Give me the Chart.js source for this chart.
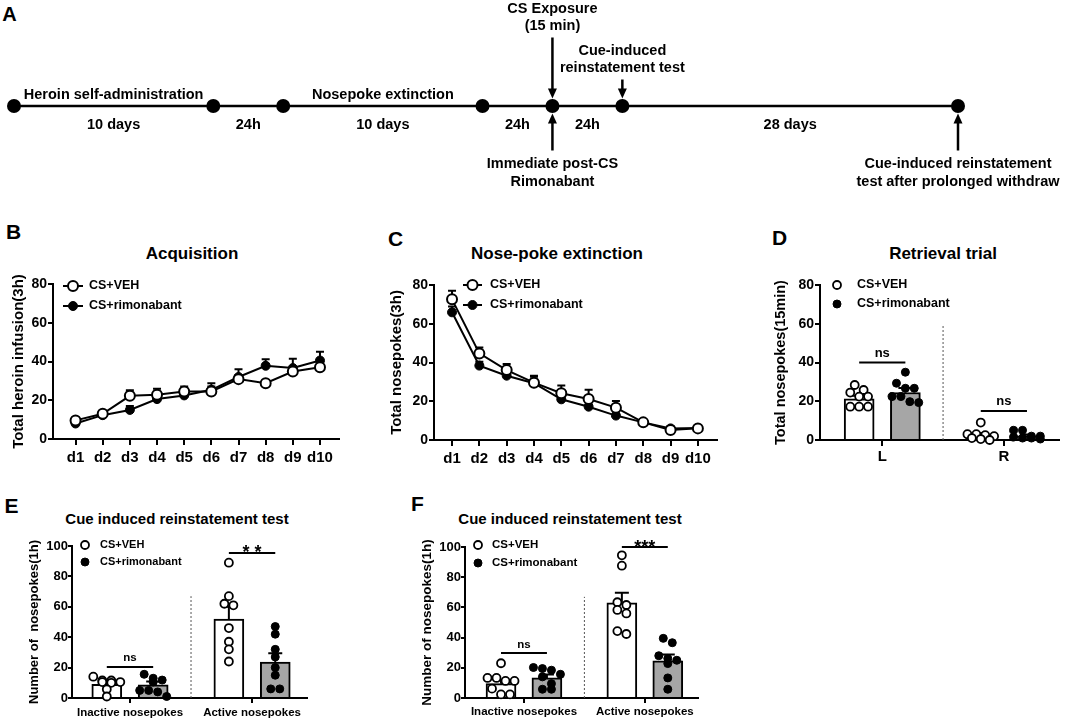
<!DOCTYPE html>
<html>
<head>
<meta charset="utf-8">
<script src="https://cdn.jsdelivr.net/npm/chart.js@4.4.1/dist/chart.umd.min.js"></script>
<style>
  html, body { margin: 0; padding: 0; background: #fff; }
  body { width: 1065px; height: 722px; position: relative; overflow: hidden;
         font-family: "Liberation Sans", Arial, Helvetica, sans-serif; font-weight: bold; color: #000; }
  canvas { position: absolute; }
  .lbl { position: absolute; transform: translate(-50%, -50%); white-space: nowrap; line-height: 1; }
</style>
</head>
<body>
<div class="lbl" style="left:9.5px;top:14px;font-size:20px">A</div>
<div class="lbl" style="left:13.5px;top:230.5px;font-size:21px">B</div>
<div class="lbl" style="left:395.5px;top:237.5px;font-size:21px">C</div>
<div class="lbl" style="left:779.5px;top:236.5px;font-size:21px">D</div>
<div class="lbl" style="left:11.5px;top:505px;font-size:21px">E</div>
<div class="lbl" style="left:417.5px;top:502.5px;font-size:21px">F</div>

<div class="lbl" style="left:192px;top:253px;font-size:17px">Acquisition</div>
<div class="lbl" style="left:557px;top:253px;font-size:17px">Nose-poke extinction</div>
<div class="lbl" style="left:943px;top:253px;font-size:17px">Retrieval trial</div>
<div class="lbl" style="left:177px;top:518px;font-size:15px">Cue induced reinstatement test</div>
<div class="lbl" style="left:570px;top:518px;font-size:15px">Cue induced reinstatement test</div>

<script>
const FONT = '"Liberation Sans", Arial, Helvetica, sans-serif';
Chart.defaults.font.family = FONT;
Chart.defaults.font.weight = 'bold';
Chart.defaults.color = '#000';

// ---- A: timeline (segment lengths, relative units) ----
const segmentSpans = [2.85, 1, 2.85, 1, 1, 4.8];
const durationLabels = ['10 days', '24h', '10 days', '24h', '24h', '28 days'];
const phaseLabels = ['Heroin self-administration', '', 'Nosepoke extinction', '', '', ''];
const eventStops = [4, 4, 5, 6];
const eventSides = ['above', 'below', 'above', 'below'];
const eventTexts = [
  ['CS Exposure', '(15 min)'],
  ['Immediate post-CS', 'Rimonabant'],
  ['Cue-induced', 'reinstatement test'],
  ['Cue-induced reinstatement', 'test after prolonged withdraw']
];

// ---- B: acquisition ----
const acqDays = ['d1', 'd2', 'd3', 'd4', 'd5', 'd6', 'd7', 'd8', 'd9', 'd10'];
const acqVeh = [9.6, 13, 22.3, 22.8, 24.5, 24.5, 30.9, 28.8, 34.8, 37];
const acqVehSem = [1, 0.8, 2.8, 3.2, 2.6, 2.6, 2, 1, 2, 1.5];
const acqRim = [8, 12.3, 15, 20.6, 22.5, 25.4, 32, 37.8, 36.6, 40.5];
const acqRimSem = [0.8, 0.8, 2, 1.2, 1, 3.4, 4, 3.4, 4.8, 4.5];

// ---- C: nose-poke extinction ----
const extDays = ['d1', 'd2', 'd3', 'd4', 'd5', 'd6', 'd7', 'd8', 'd9', 'd10'];
const extVeh = [72.6, 44.7, 36.1, 29.6, 24.1, 21.2, 16.7, 9.1, 5.2, 6];
const extVehSem = [4.4, 3, 3.1, 3, 4, 4.8, 3.4, 1, 1, 0.8];
const extRim = [65.9, 38.4, 33.2, 29.3, 21, 17.2, 12.6, 9.1, 6, 6.2];
const extRimSem = [3, 2, 1, 3.8, 1, 1, 1.2, 0.8, 0.8, 0.6];

// ---- D: retrieval trial ----
const retGroups = ['L', 'R'];
const retVehMean = [21.3, 2.6];
const retVehSem = [1.5, 1];
const retRimMean = [24.5, 2.2];
const retRimSem = [2.3, 0.6];
const retVehPts = [[28.4, 25.8, 24.5, 22.4, 22.4, 17.2, 17.2, 17.2], [9, 3, 3, 2.5, 2, 1, 0.5, 0]];
const retRimPts = [[35, 29.3, 26.7, 26.7, 22.4, 22.4, 19.8, 19.3], [5, 5, 2, 2, 1.5, 1, 1, 0.5]];
const retSigY = [40, 15];
const retSigText = ['ns', 'ns'];

// ---- E: cue induced reinstatement test ----
const cueGroups = ['Inactive nosepokes', 'Active nosepokes'];
const cueVehMean = [9, 52];
const cueVehSem = [1.3, 8];
const cueRimMean = [8.7, 23.6];
const cueRimSem = [2.2, 5.9];
const cueVehPts = [[14, 11.5, 11.5, 10.5, 10.5, 10, 5.7, 1], [89, 67, 62, 61, 46, 37, 32, 24]];
const cueRimPts = [[15.6, 13, 11.8, 10.5, 5, 5, 4, 1], [47, 42, 32, 27, 20, 15, 6, 6]];
const cueSigY = [20.4, 95.4];
const cueSigText = ['ns', '* *'];

// ---- F: cue induced reinstatement test after prolonged withdrawal ----
const lateGroups = ['Inactive nosepokes', 'Active nosepokes'];
const lateVehMean = [9.5, 63];
const lateVehSem = [2.5, 6.7];
const lateRimMean = [13.3, 24.6];
const lateRimSem = [2.3, 4.2];
const lateVehPts = [[23, 13.3, 13.3, 11.3, 11.3, 6.2, 2.4, 2.4], [94.5, 87.6, 63.4, 61.6, 58.3, 56, 44.3, 42.4]];
const lateRimPts = [[20.2, 19.5, 18.4, 15.7, 14, 9.5, 5.8, 5.8], [39.5, 36.6, 28, 26.2, 25, 22.8, 13.3, 5.8]];
const lateSigY = [29.8, 100];
const lateSigText = ['ns', '***'];

const BAR_OFFSET = 0.19;   // VEH / rimonabant bar shift inside a group
const RIM_GREY = '#a6a6a6';

// ---------- helpers ----------
function mount(id, box) {
  const c = document.createElement('canvas');
  c.id = id;
  c.width = box.w; c.height = box.h;
  c.style.left = box.left + 'px'; c.style.top = box.top + 'px';
  c.style.width = box.w + 'px'; c.style.height = box.h + 'px';
  document.body.appendChild(c);
  return c;
}

// canvas box + wanted plot area (page px) -> padding and axis sizes
function frame(box, area) {
  return {
    box, area,
    padding: { left: 0, top: area.top - box.top, right: box.left + box.w - area.right, bottom: 0 },
    yWidth: area.left - box.left,
    xHeight: box.top + box.h - area.bottom
  };
}

// simple dot-plot layout: values that sit close together share a row
function swarm(values, center, step, tol, perRow) {
  const order = values.map((v, i) => i).sort((a, b) => values[b] - values[a]);
  const xs = [];
  let row = [];
  const flush = () => {
    row.forEach((i, k) => { xs[i] = center + (k - (row.length - 1) / 2) * step; });
    row = [];
  };
  order.forEach(i => {
    if (row.length && (values[row[0]] - values[i] > tol || row.length >= perRow)) flush();
    row.push(i);
  });
  flush();
  return values.map((v, i) => ({ x: xs[i], y: v }));
}

function axes(f, x, y) {
  const marks = { display: true, drawOnChartArea: false, drawTicks: true, color: '#000', lineWidth: 2 };
  return {
    x: {
      type: 'linear', min: x.min, max: x.max, offset: false,
      grid: { ...marks, offset: false, tickLength: x.tick },
      border: { display: true, color: '#000', width: 2 },
      ticks: { font: { size: x.size }, padding: x.pad, maxRotation: 0, autoSkip: false,
               callback: v => x.labels[Math.round(v) - 1] },
      afterBuildTicks: s => { s.ticks = x.labels.map((l, i) => ({ value: i + 1 })); },
      afterFit: s => { s.height = f.xHeight; }
    },
    y: {
      min: 0, max: y.max,
      grid: { ...marks, tickLength: y.tick },
      border: { display: true, color: '#000', width: 2 },
      ticks: { stepSize: y.step, font: { size: y.size }, padding: y.pad },
      title: { display: true, text: y.title, font: { size: y.titleSize }, padding: { top: y.titlePad, bottom: 0 } },
      afterFit: s => { s.width = f.yWidth; }
    }
  };
}

// ---------- plugins ----------
const errorBars = {
  id: 'errorBars',
  beforeDatasetDraw(chart, args) {
    const ds = chart.data.datasets[args.index];
    if (!ds.sem) return;
    const { ctx, scales: { y } } = chart;
    ctx.save();
    ctx.strokeStyle = '#000';
    ctx.lineWidth = 2;
    args.meta.data.forEach((el, i) => {
      const top = y.getPixelForValue(ds.data[i].y + ds.sem[i]);
      ctx.beginPath();
      ctx.moveTo(el.x, el.y);
      ctx.lineTo(el.x, top);
      ctx.moveTo(el.x - ds.cap, top);
      ctx.lineTo(el.x + ds.cap, top);
      ctx.stroke();
    });
    ctx.restore();
  }
};

const sigMarks = {
  id: 'sigMarks',
  afterDatasetsDraw(chart, args, o) {
    if (!o.levels) return;
    const { ctx, scales: { x, y } } = chart;
    ctx.save();
    ctx.strokeStyle = '#000';
    ctx.fillStyle = '#000';
    ctx.lineWidth = 2;
    ctx.textAlign = 'center';
    ctx.textBaseline = 'alphabetic';
    o.levels.forEach((lv, i) => {
      const x0 = x.getPixelForValue(i + 1 - BAR_OFFSET);
      const x1 = x.getPixelForValue(i + 1 + BAR_OFFSET);
      const py = y.getPixelForValue(lv);
      ctx.beginPath(); ctx.moveTo(x0, py); ctx.lineTo(x1, py); ctx.stroke();
      const star = o.labels[i].includes('*');
      ctx.font = `bold ${star ? o.starSize : o.nsSize}px ${FONT}`;
      ctx.fillText(o.labels[i], (x0 + x1) / 2, py + (star ? 5.5 : -5.5));
    });
    ctx.restore();
  }
};

const separator = {
  id: 'separator',
  afterDatasetsDraw(chart, args, o) {
    if (o.at === undefined) return;
    const { ctx, scales: { x, y } } = chart;
    const px = x.getPixelForValue(o.at);
    ctx.save();
    ctx.strokeStyle = '#555';
    ctx.lineWidth = 1;
    ctx.setLineDash([2, 2]);
    ctx.beginPath();
    ctx.moveTo(px, y.getPixelForValue(0));
    ctx.lineTo(px, y.getPixelForValue(o.top));
    ctx.stroke();
    ctx.restore();
  }
};

const panelLegend = {
  id: 'panelLegend',
  afterDraw(chart, args, o) {
    if (o.dx === undefined) return;
    const { ctx, chartArea } = chart;
    const items = chart.data.datasets.filter(d => d.label);
    ctx.save();
    ctx.font = `bold ${o.size}px ${FONT}`;
    ctx.textAlign = 'left';
    ctx.textBaseline = 'middle';
    items.forEach((d, k) => {
      const yy = chartArea.top + o.dy + k * o.rowH;
      const x0 = chartArea.left + o.dx;
      let cx = x0;
      if (o.lineLen) {
        ctx.strokeStyle = '#000';
        ctx.lineWidth = 2;
        ctx.beginPath(); ctx.moveTo(x0, yy); ctx.lineTo(x0 + o.lineLen, yy); ctx.stroke();
        cx = x0 + o.lineLen / 2;
      }
      ctx.beginPath();
      ctx.arc(cx, yy, d.pointRadius, 0, Math.PI * 2);
      ctx.fillStyle = d.pointBackgroundColor;
      ctx.fill();
      ctx.lineWidth = d.pointBorderWidth;
      ctx.strokeStyle = '#000';
      ctx.stroke();
      ctx.fillStyle = '#000';
      ctx.fillText(d.label, chartArea.left + o.tx, yy);
    });
    ctx.restore();
  }
};

const timelineText = {
  id: 'timelineText',
  afterDatasetsDraw(chart, args, o) {
    if (!o.stops) return;
    const { ctx, scales: { x, y } } = chart;
    const lineY = y.getPixelForValue(0);
    ctx.save();
    ctx.fillStyle = '#000';
    ctx.strokeStyle = '#000';
    ctx.font = `bold 14.5px ${FONT}`;
    ctx.textAlign = 'center';
    ctx.textBaseline = 'middle';
    segmentSpans.forEach((s, i) => {
      const mid = x.getPixelForValue(o.stops[i] + s / 2);
      if (phaseLabels[i]) ctx.fillText(phaseLabels[i], mid, lineY - 11);
      ctx.fillText(durationLabels[i], mid, lineY + 19);
    });
    eventStops.forEach((si, k) => {
      const px = x.getPixelForValue(o.stops[si]);
      const dir = eventSides[k] === 'above' ? -1 : 1;
      const tip = lineY + dir * (o.dotR + 0.5);
      const tail = tip + dir * o.arrowLens[k];
      ctx.lineWidth = 2.5;
      ctx.beginPath(); ctx.moveTo(px, tail); ctx.lineTo(px, tip + dir * 8); ctx.stroke();
      ctx.beginPath();
      ctx.moveTo(px, tip);
      ctx.lineTo(px - 4.5, tip + dir * 10);
      ctx.lineTo(px + 4.5, tip + dir * 10);
      ctx.closePath();
      ctx.fill();
      const lines = eventTexts[k];
      lines.forEach((t, j) => {
        const ty = dir < 0 ? tail - 11.5 - (lines.length - 1 - j) * 17.5 : tail + 13 + j * 18;
        ctx.fillText(t, px, ty);
      });
    });
    ctx.restore();
  }
};

Chart.register(errorBars, sigMarks, separator, panelLegend, timelineText);

// ---------- A ----------
const stops = [0];
segmentSpans.forEach(s => stops.push(stops[stops.length - 1] + s));

new Chart(mount('timeline', { left: 0, top: 0, w: 1065, h: 200 }), {
  type: 'line',
  data: {
    datasets: [{
      data: stops.map(v => ({ x: v, y: 0 })),
      borderColor: '#000', borderWidth: 2.5,
      pointRadius: 7, pointBackgroundColor: '#000', pointBorderWidth: 0,
      clip: false
    }]
  },
  options: {
    responsive: false, animation: false,
    layout: { padding: { left: 14, right: 107, top: 86, bottom: 74 } },
    scales: {
      x: { type: 'linear', display: false, min: 0, max: stops[stops.length - 1] },
      y: { display: false, min: -1, max: 1 }
    },
    plugins: {
      legend: { display: false }, tooltip: { enabled: false },
      timelineText: { stops, dotR: 7, arrowLens: [61, 37, 19, 37] }
    }
  }
});

// ---------- line panels ----------
function linePanel(id, f, days, veh, vehSem, rim, rimSem, xr, yTitle, legend) {
  const pts = arr => arr.map((v, i) => ({ x: i + 1, y: v }));
  new Chart(mount(id, f.box), {
    type: 'line',
    data: {
      datasets: [
        { label: 'CS+VEH', data: pts(veh), sem: vehSem, cap: 4,
          borderColor: '#000', borderWidth: 2, tension: 0, clip: false,
          pointRadius: 5, pointBackgroundColor: '#fff', pointBorderColor: '#000', pointBorderWidth: 2 },
        { label: 'CS+rimonabant', data: pts(rim), sem: rimSem, cap: 4,
          borderColor: '#000', borderWidth: 2, tension: 0, clip: false,
          pointRadius: 4.5, pointBackgroundColor: '#000', pointBorderColor: '#000', pointBorderWidth: 1 }
      ]
    },
    options: {
      responsive: false, animation: false,
      layout: { padding: f.padding },
      scales: axes(f,
        { min: xr[0], max: xr[1], labels: days, tick: 6, size: 15, pad: 4 },
        { max: 80, step: 20, tick: 5, size: 14, pad: 1, title: yTitle.text, titleSize: 15, titlePad: yTitle.pad }),
      plugins: { legend: { display: false }, tooltip: { enabled: false }, panelLegend: legend }
    }
  });
}

linePanel('acq',
  frame({ left: 0, top: 270, w: 350, h: 200 }, { left: 53, top: 284, right: 339, bottom: 439 }),
  acqDays, acqVeh, acqVehSem, acqRim, acqRimSem, [0.17, 10.7],
  { text: 'Total heroin infusion(3h)', pad: 10 },
  { dx: 10, lineLen: 20, tx: 36, dy: 2, rowH: 20, size: 12.5 });

linePanel('ext',
  frame({ left: 380, top: 270, w: 345, h: 200 }, { left: 434, top: 285, right: 717, bottom: 440 }),
  extDays, extVeh, extVehSem, extRim, extRimSem, [0.34, 10.7],
  { text: 'Total nosepokes(3h)', pad: 8 },
  { dx: 29, lineLen: 19, tx: 56, dy: 0, rowH: 20, size: 12.5 });

// ---------- bar + dot panels ----------
function barPanel(id, f, c) {
  const xPx = (f.area.right - f.area.left) / (c.xr[1] - c.xr[0]);
  const yPx = (f.area.bottom - f.area.top) / c.yMax;
  const step = 9 / xPx, tol = 7 / yPx;
  const bars = (means, sign) => means.map((m, i) => ({ x: i + 1 + sign * BAR_OFFSET, y: m }));
  const dots = (sets, sign) => sets.flatMap((vals, i) => swarm(vals, i + 1 + sign * BAR_OFFSET, step, tol, 4));
  new Chart(mount(id, f.box), {
    type: 'bar',
    data: {
      datasets: [
        { type: 'scatter', label: 'CS+VEH', data: dots(c.vehPts, -1), order: 0, clip: false,
          pointRadius: 4, pointBackgroundColor: '#fff', pointBorderColor: '#000', pointBorderWidth: 1.8 },
        { type: 'scatter', label: 'CS+rimonabant', data: dots(c.rimPts, 1), order: 0, clip: false,
          pointRadius: 4, pointBackgroundColor: '#000', pointBorderColor: '#000', pointBorderWidth: 1 },
        { type: 'bar', data: bars(c.vehMean, -1), sem: c.vehSem, cap: 7, order: 2, grouped: false,
          backgroundColor: '#fff', borderColor: '#000', borderWidth: 2, barThickness: 30 },
        { type: 'bar', data: bars(c.rimMean, 1), sem: c.rimSem, cap: 7, order: 2, grouped: false,
          backgroundColor: RIM_GREY, borderColor: '#000', borderWidth: 2, barThickness: 30 }
      ]
    },
    options: {
      responsive: false, animation: false,
      layout: { padding: f.padding },
      scales: axes(f,
        { min: c.xr[0], max: c.xr[1], labels: c.groups, tick: c.xTick, size: c.xSize, pad: c.xPad },
        { max: c.yMax, step: 20, tick: c.yTick, size: c.ySize, pad: c.yPad, title: c.yTitle, titleSize: c.yTitleSize, titlePad: c.yTitlePad }),
      plugins: {
        legend: { display: false }, tooltip: { enabled: false },
        panelLegend: c.legend,
        sigMarks: { levels: c.sigY, labels: c.sigText, nsSize: c.nsSize, starSize: 18 },
        separator: { at: 1.5, top: c.sepTop }
      }
    }
  });
}

barPanel('retrieval',
  frame({ left: 760, top: 270, w: 305, h: 200 }, { left: 820, top: 285, right: 1062, bottom: 440 }),
  { groups: retGroups, vehMean: retVehMean, vehSem: retVehSem, rimMean: retRimMean, rimSem: retRimSem,
    vehPts: retVehPts, rimPts: retRimPts, sigY: retSigY, sigText: retSigText,
    xr: [0.488, 2.455], yMax: 80, xTick: 6, xSize: 15, xPad: 2, yTick: 5, ySize: 14, yPad: 1,
    yTitle: 'Total nosepokes(15min)', yTitleSize: 14.5, yTitlePad: 12, nsSize: 13, sepTop: 59,
    legend: { dx: 17, lineLen: 0, tx: 37, dy: 0, rowH: 19, size: 12.5 } });

barPanel('cue',
  frame({ left: 0, top: 530, w: 380, h: 192 }, { left: 72, top: 546, right: 307, bottom: 698 }),
  { groups: cueGroups, vehMean: cueVehMean, vehSem: cueVehSem, rimMean: cueRimMean, rimSem: cueRimSem,
    vehPts: cueVehPts, rimPts: cueRimPts, sigY: cueSigY, sigText: cueSigText,
    xr: [0.525, 2.45], yMax: 100, xTick: 5, xSize: 11.5, xPad: 3, yTick: 4, ySize: 13, yPad: 0,
    yTitle: 'Number of  nosepokes(1h)', yTitleSize: 13, yTitlePad: 27, nsSize: 11.5, sepTop: 67,
    legend: { dx: 13, lineLen: 0, tx: 28, dy: -1, rowH: 17, size: 11 } });

barPanel('late',
  frame({ left: 400, top: 530, w: 360, h: 192 }, { left: 465, top: 547, right: 698, bottom: 698 }),
  { groups: lateGroups, vehMean: lateVehMean, vehSem: lateVehSem, rimMean: lateRimMean, rimSem: lateRimSem,
    vehPts: lateVehPts, rimPts: lateRimPts, sigY: lateSigY, sigText: lateSigText,
    xr: [0.512, 2.44], yMax: 100, xTick: 5, xSize: 11.5, xPad: 2, yTick: 4, ySize: 13, yPad: 0,
    yTitle: 'Number of nosepokes(1h)', yTitleSize: 13.5, yTitlePad: 19, nsSize: 11.5, sepTop: 67,
    legend: { dx: 13, lineLen: 0, tx: 27, dy: -2, rowH: 18, size: 11.5 } });
</script>
</body>
</html>
